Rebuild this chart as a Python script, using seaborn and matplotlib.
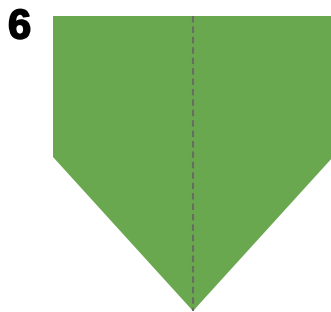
import matplotlib
matplotlib.use("Agg")
import matplotlib.pyplot as plt
import matplotlib.patheffects as pe
import seaborn as sns

# pentagon outline in pixel coords (x right, y down)
shape_x = [53, 333, 333, 193, 53]
shape_y = [16, 16, 157, 311, 157]
# centre fold line
fold_x = [193, 193]
fold_y = [16, 311]
label = "6"

sns.set_theme(style="white")
plt.rcParams['font.family'] = ['Liberation Sans', 'DejaVu Sans']

fig = plt.figure(figsize=(3.31, 3.12), dpi=100)
ax = fig.add_axes([0, 0, 1, 1])
ax.fill(shape_x, shape_y, color="#6aa84f", lw=0)
ax.plot(fold_x, fold_y, color="#666e62", lw=1.5, ls=(0, (3.1, 1.9)))
ax.text(8, 38.5, label, fontsize=30, fontweight="bold", color="black",
        path_effects=[pe.withStroke(linewidth=1.2, foreground="black")])

ax.set_xlim(0, 331)
ax.set_ylim(312, 0)
ax.axis("off")
fig.savefig("out.png", dpi=100)
